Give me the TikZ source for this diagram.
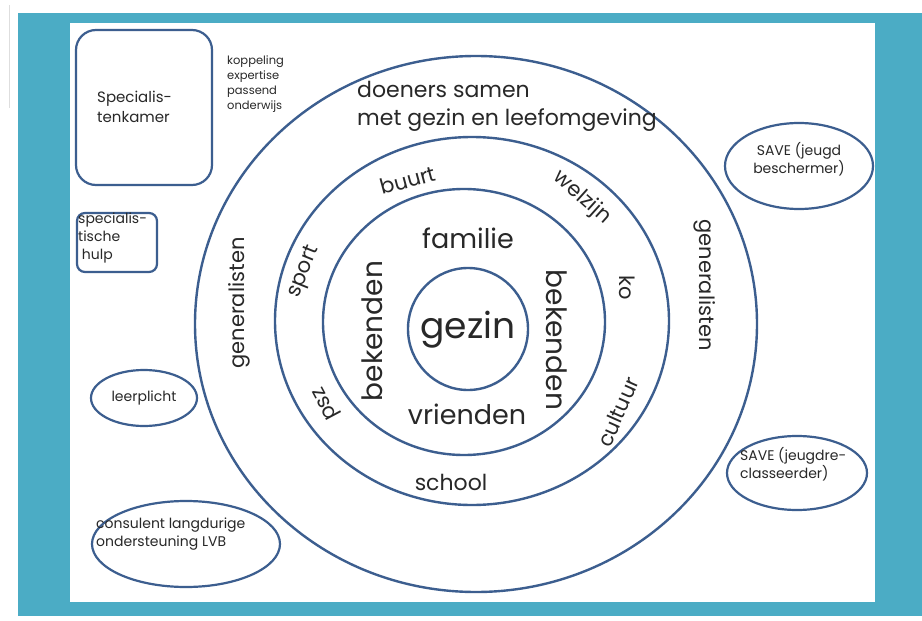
\documentclass[tikz,border=0pt]{standalone}
\usepackage{fontspec}
\setmainfont{Poppins}
\usetikzlibrary{shapes.geometric}
\definecolor{frameteal}{RGB}{75,172,197}
\definecolor{lineblue}{RGB}{60,94,143}
\definecolor{inkgray}{RGB}{40,40,40}
\definecolor{edgegray}{RGB}{222,222,222}
\begin{document}
\begin{tikzpicture}[x=1pt,y=-1pt,
  ring/.style={draw=lineblue, line width=2.4pt, ellipse, inner sep=0pt},
  oval/.style={draw=lineblue, line width=2.2pt, ellipse, inner sep=0pt},
  roundbox/.style={draw=lineblue, line width=2.2pt, rectangle, inner sep=0pt},
  lbl/.style={text=inkgray, inner sep=0pt, font=\fontsize{#1}{#1}\selectfont},
  lbl/.default=21,
  side/.style={text=inkgray, inner sep=0pt, align=left}
]
\useasboundingbox (0,0) rectangle (922,621);
% page edge and coloured frame
\fill[white] (0,0) rectangle (922,621);
\draw[edgegray, line width=1pt] (9,5) -- (9,108);
\fill[frameteal] (18,13) rectangle (922,616);
\fill[white] (70,23) rectangle (875,602);

% concentric rings
\node[ring, minimum width=562, minimum height=536] (outer) at (476,324) {};
\node[ring, minimum width=394, minimum height=368] (middle) at (472,321) {};
\node[ring, minimum width=282, minimum height=266] (kring) at (464,322) {};
\node[ring, minimum width=120, minimum height=122] (core) at (468,329) {};

% centre
\node[lbl=36] (gezin) at (468,330) {gezin};
\node[lbl=27] (familie) at (468,238) {familie};
\node[lbl=27] (vrienden) at (467,414) {vrienden};
\node[lbl=28, rotate=90] (bekL) at (372,331) {bekenden};
\node[lbl=28, rotate=-90] (bekR) at (557,340) {bekenden};

% neighbourhood ring
\node[lbl, rotate=15] (buurt) at (408,180) {buurt};
\node[lbl, rotate=-42] (welzijn) at (582,198) {welzijn};
\node[lbl, rotate=-90] (ko) at (627,288) {ko};
\node[lbl, rotate=66] (cultuur) at (618,412) {cultuur};
\node[lbl=22] (school) at (451,482) {school};
\node[lbl, rotate=118] (psz) at (327,403) {psz};
\node[lbl, rotate=68] (sport) at (304,272) {sport};

% outer ring
\node[lbl, rotate=90] (genL) at (239,303) {generalisten};
\node[lbl, rotate=-90] (genR) at (705,285) {generalisten};
\node[side, anchor=west, font=\fontsize{22}{28}\selectfont] (doeners) at (357,106)
  {doeners samen\\met gezin en leefomgeving};

% surrounding services
\node[roundbox, rounded corners=20, minimum width=136, minimum height=155] (kamer) at (144,107.5) {};
\node[side, anchor=west, font=\fontsize{15}{20}\selectfont] (kamertxt) at (97,107) {Specialis-\\tenkamer};
\node[side, anchor=north west, font=\fontsize{11.5}{15}\selectfont] (koppeling) at (227,56)
  {koppeling\\expertise\\passend\\onderwijs};
\node[roundbox, rounded corners=8, minimum width=80, minimum height=59] (hulp) at (117,242.5) {};
\node[side, anchor=north west, font=\fontsize{14}{18}\selectfont] (hulptxt) at (78,213)
  {specialis-\\tische\\\ hulp};
\node[oval, minimum width=106, minimum height=56] (leerplicht) at (144,398) {};
\node[lbl=14] (leerplichttxt) at (144,398) {leerplicht};
\node[oval, minimum width=188, minimum height=86] (consulent) at (186,544) {};
\node[side, anchor=west, font=\fontsize{14}{18}\selectfont] (consulenttxt) at (96,534)
  {consulent langdurige\\ondersteuning LVB};
\node[oval, minimum width=148, minimum height=86] (save1) at (799,166) {};
\node[side, align=center, font=\fontsize{14}{18}\selectfont] (save1txt) at (799,159)
  {SAVE (jeugd\\beschermer)};
\node[oval, minimum width=140, minimum height=74] (save2) at (797,473) {};
\node[side, anchor=west, font=\fontsize{14}{18}\selectfont] (save2txt) at (740,464)
  {SAVE (jeugdre-\\classeerder)};
\end{tikzpicture}
\end{document}
